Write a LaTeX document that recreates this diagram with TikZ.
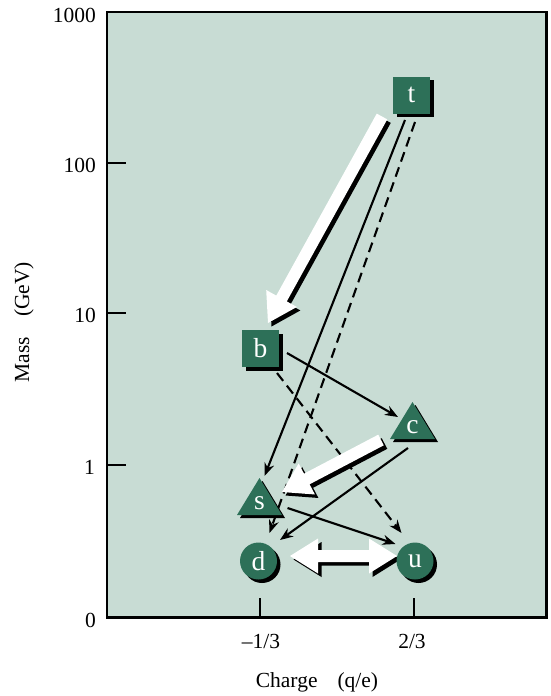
\documentclass[tikz,border=0pt]{standalone}
\usepackage{fontspec}
\setmainfont{Liberation Serif}
\usetikzlibrary{arrows.meta,calc,shadows}
\definecolor{plotbg}{RGB}{200,220,212}
\definecolor{quark}{RGB}{45,112,88}

% fat white arrow with straight shaft and wide triangular head
\newcommand\fatarrow[3]{% #1 style, #2 tail, #3 tip
  \coordinate (fa-t) at (#2);
  \coordinate (fa-p) at (#3);
  \coordinate (fa-h) at ($(fa-p)!28pt!(fa-t)$);
  \fill[#1] ($(fa-t)!6pt!90:(fa-p)$) -- ($(fa-h)!6pt!90:(fa-p)$)
    -- ($(fa-h)!17.5pt!90:(fa-p)$) -- (fa-p)
    -- ($(fa-h)!17.5pt!-90:(fa-p)$) -- ($(fa-h)!6pt!-90:(fa-p)$)
    -- ($(fa-t)!6pt!-90:(fa-p)$) -- cycle;
}
% fat white arrow with heads at both ends
\newcommand\fatdouble[3]{% #1 style, #2 first tip, #3 second tip
  \coordinate (fa-a) at (#2);
  \coordinate (fa-b) at (#3);
  \coordinate (fa-ha) at ($(fa-a)!28pt!(fa-b)$);
  \coordinate (fa-hb) at ($(fa-b)!28pt!(fa-a)$);
  \fill[#1] (fa-a) -- ($(fa-ha)!17.5pt!90:(fa-b)$) -- ($(fa-ha)!6pt!90:(fa-b)$)
    -- ($(fa-hb)!6pt!-90:(fa-a)$) -- ($(fa-hb)!17.5pt!-90:(fa-a)$) -- (fa-b)
    -- ($(fa-hb)!17.5pt!90:(fa-a)$) -- ($(fa-hb)!6pt!90:(fa-a)$)
    -- ($(fa-ha)!6pt!-90:(fa-b)$) -- ($(fa-ha)!17.5pt!-90:(fa-b)$) -- cycle;
}
% triangle marker with its drop shadow, centred on the label position
\newcommand\quarktri[2]{%
  \fill[black] ({#1+3},{#2-25+3}) -- ({#1+22.5+3},{#2+12+3}) -- ({#1-22.5+3},{#2+12+3}) -- cycle;
  \fill[quark] ({#1},{#2-25}) -- ({#1+22.5},{#2+12}) -- ({#1-22.5},{#2+12}) -- cycle;
}

\begin{document}
\begin{tikzpicture}[x=1pt,y=-1pt,
  axislabel/.style={font=\fontsize{21.5}{24}\selectfont, inner sep=0pt},
  quarklabel/.style={font=\fontsize{27.5}{30}\selectfont, text=white, inner sep=0pt},
  shadowed/.style={fill=quark, inner sep=0pt,
    drop shadow={shadow xshift=3.5pt, shadow yshift=-3.5pt, fill=black, opacity=1}},
  squarebox/.style={shadowed, rectangle, minimum size=37pt},
  roundbox/.style={shadowed, circle, minimum size=37pt},
  decay/.style={line width=2.1pt, -{Stealth[length=13pt,width=10pt]}},
  weakdecay/.style={decay, dash pattern=on 10pt off 6pt},
  tick/.style={line width=1.3pt},
]
\useasboundingbox (0,0) rectangle (551,696);

% plot area
\draw[line width=2.5pt, fill=plotbg] (107,12) rectangle (546.5,617.5);
\foreach \yy in {163,313,465} \draw[tick] (107,\yy) -- (126,\yy);
\foreach \xx in {260,414} \draw[tick] (\xx,617.5) -- (\xx,598);

% axis labels
\node[axislabel, anchor=east] (y1000) at (96,15) {1000};
\node[axislabel, anchor=east] (y100) at (96,165) {100};
\node[axislabel, anchor=east] (y10) at (96,315) {10};
\node[axislabel, anchor=east] (y1) at (95,467) {1};
\node[axislabel, anchor=east] (y0) at (96,620) {0};
\node[axislabel] (xd) at (261,641) {–1/3};
\node[axislabel] (xu) at (412,641) {2/3};
\node[axislabel] (xtitle) at (317,682) {Charge\hspace{20pt}(q/e)};
\node[axislabel, rotate=90] (ytitle) at (24,322) {Mass\hspace{20pt}(GeV)};

% quark positions
\coordinate (t) at (411.5,95);
\coordinate (b) at (260.5,348.5);
\coordinate (c) at (412.5,427);
\coordinate (s) at (259.5,503);
\coordinate (d) at (258.5,561);
\coordinate (u) at (415,561);

% decay lines
\draw[decay] ($(t)+(-6.5,25)$) -- ($(s)+(5,-27)$);
\draw[weakdecay] ($(t)+(3.5,27)$) -- ($(d)+(11,-28)$);
\draw[decay] ($(b)+(26.5,4.5)$) -- ($(c)+(-14.5,-10)$);
\draw[weakdecay] ($(b)+(16.5,24.5)$) -- ($(u)+(-13.5,-28)$);
\draw[decay] ($(c)+(-4.5,21)$) -- ($(d)+(21.5,-21)$);
\draw[decay] ($(s)+(28,5)$) -- ($(u)+(-19.5,-17)$);

% strong transitions: white arrows with black shadow
\begin{scope}[transform canvas={shift={(3.5,3.5)}}]
  \fatarrow{black}{$(t)+(-29.5,21.5)$}{$(b)+(7.5,-25.5)$}
  \fatarrow{black}{$(c)+(-31.5,13)$}{$(s)+(22.5,-11)$}
  \fatdouble{black}{$(d)+(31.5,-5)$}{$(u)+(-18,-5)$}
\end{scope}
\fatarrow{white}{$(t)+(-29.5,21.5)$}{$(b)+(7.5,-25.5)$}
\fatarrow{white}{$(c)+(-31.5,13)$}{$(s)+(22.5,-11)$}
\fatdouble{white}{$(d)+(31.5,-5)$}{$(u)+(-18,-5)$}

% quarks
\quarktri{412.5}{427}
\quarktri{259.5}{503}
\node[squarebox] (tq) at (t) {};
\node[squarebox] (bq) at (b) {};
\node[roundbox] (dq) at (d) {};
\node[roundbox] (uq) at (u) {};
\node[quarklabel] (tl) at (t) {t};
\node[quarklabel] (bl) at (b) {b};
\node[quarklabel] (cl) at (c) {c};
\node[quarklabel] (sl) at (s) {s};
\node[quarklabel] (dl) at (d) {d};
\node[quarklabel] (ul) at (u) {u};
\end{tikzpicture}
\end{document}
